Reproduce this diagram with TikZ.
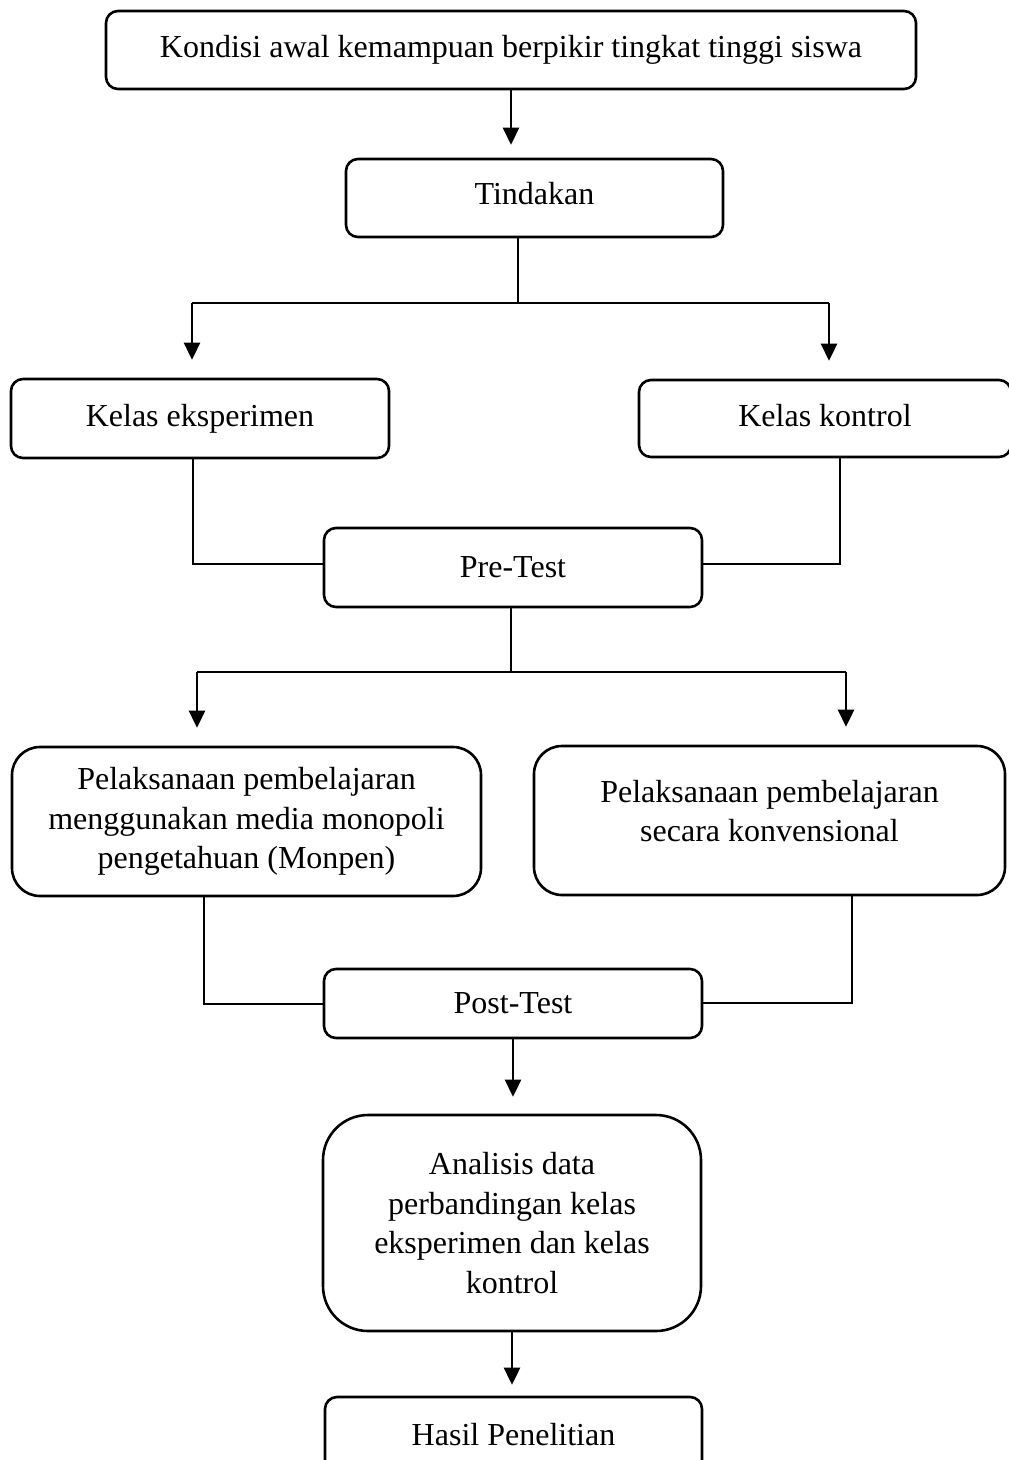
\documentclass[tikz,border=0pt]{standalone}
\usepackage{fontspec}
\setmainfont{Liberation Serif}
\usetikzlibrary{arrows.meta,calc}
\tikzset{
  box/.style={draw, line width=2.6pt, rounded corners=12pt, inner sep=0pt, align=center,
    font=\fontsize{32}{39.5}\selectfont},
  bigbox/.style={box, rounded corners=28pt},
  hugebox/.style={box, rounded corners=45pt},
  conn/.style={line width=2.6pt},
  arr/.style={conn, -{Triangle[width=16pt,length=17pt]}}
}
\begin{document}
\begin{tikzpicture}[x=1pt,y=-1pt]
\fill[white] (0,0) rectangle (1009,1460);
\clip (0,0) rectangle (1009,1460);
% boxes
\node[box, minimum width=810pt, minimum height=78pt] (b1) at (511,50) {Kondisi awal kemampuan berpikir tingkat tinggi siswa};
\node[box, minimum width=377pt, minimum height=78pt] (b2) at (534.5,198) {Tindakan\\[-31pt]\mbox{}};
\node[box, minimum width=378pt, minimum height=79pt] (b3) at (200,418.5) {Kelas eksperimen};
\node[box, minimum width=372pt, minimum height=77pt] (b4) at (825,418.5) {Kelas kontrol\\[-33pt]\mbox{}};
\node[box, minimum width=378pt, minimum height=79pt] (pre) at (513,567.5) {Pre-Test};
\node[bigbox, minimum width=469pt, minimum height=149pt] (b6) at (246.5,821.5) {Pelaksanaan pembelajaran\\menggunakan media monopoli\\pengetahuan (Monpen)};
\node[bigbox, minimum width=471pt, minimum height=149pt] (b7) at (769.5,820.5) {Pelaksanaan pembelajaran\\secara konvensional\\[-20pt]\mbox{}};
\node[box, minimum width=378pt, minimum height=69pt] (post) at (513,1003.5) {Post-Test};
\node[hugebox, minimum width=378pt, minimum height=216pt] (b9) at (512,1223) {Analisis data\\perbandingan kelas\\eksperimen dan kelas\\kontrol};
\node[box, minimum width=377pt, minimum height=76pt] (b10) at (513.5,1435) {Hasil Penelitian};
% junction coordinates
\coordinate (s1) at (518,303);
\coordinate (s1l) at (192,303);
\coordinate (s1r) at (829,303);
\coordinate (k1) at (840,564);
\coordinate (k0) at (193,564);
\coordinate (s2) at (511,672);
\coordinate (s2l) at (197,672);
\coordinate (s2r) at (846,672);
\coordinate (p1) at (204,1004);
\coordinate (p2) at (852,1003);
% connectors
\draw[arr, shorten >=13pt] (b1.south) -- (b1.south |- b2.north);
\draw[conn] (s1 |- b2.south) -- (s1);
\draw[conn] (s1l) -- (s1r);
\draw[arr, shorten >=18pt] (s1l) -- (s1l |- b3.north);
\draw[arr, shorten >=18pt] (s1r) -- (s1r |- b4.north);
\draw[conn] (k0 |- b3.south) -- (k0) -- (k0 -| pre.west);
\draw[conn] (k1 |- b4.south) -- (k1) -- (k1 -| pre.east);
\draw[conn] (s2 |- pre.south) -- (s2);
\draw[conn] (s2l) -- (s2r);
\draw[arr, shorten >=18pt] (s2l) -- (s2l |- b6.north);
\draw[arr, shorten >=18pt] (s2r) -- (s2r |- b7.north);
\draw[conn] (p1 |- b6.south) -- (p1) -- (p1 -| post.west);
\draw[conn] (p2 |- b7.south) -- (p2) -- (p2 -| post.east);
\draw[arr, shorten >=17pt] (post.south) -- (post.south |- b9.north);
\draw[arr, shorten >=11pt] (b9.south) -- (b9.south |- b10.north);
\end{tikzpicture}
\end{document}
